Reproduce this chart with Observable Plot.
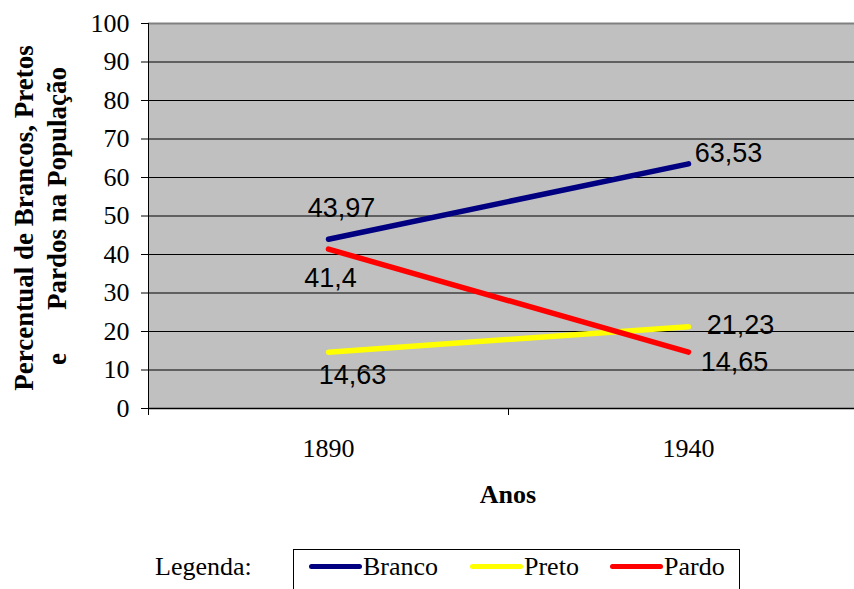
<!DOCTYPE html>
<html><head><meta charset="utf-8">
<script src="https://cdn.jsdelivr.net/npm/d3@7"></script>
<script src="https://cdn.jsdelivr.net/npm/@observablehq/plot@0.6"></script>
<style>
body{margin:0;background:#fff;overflow:hidden;}
#wrap{position:relative;width:854px;height:589px;font-family:"Liberation Serif",serif;}
#legend{position:absolute;left:0;top:540px;width:854px;height:49px;}
#legend .lab{position:absolute;left:155px;top:12px;font-size:26px;line-height:30px;color:#000;}
#legend .box{position:absolute;left:293px;top:9px;width:447px;height:60px;border:1px solid #000;box-sizing:border-box;}
#legend .sw{position:absolute;height:5px;border-radius:3px;top:24px;width:53px;}
#legend .nm{position:absolute;top:12px;font-size:26px;line-height:30px;color:#000;}
</style></head><body>
<div id="wrap"><div id="chart"></div><div id="legend"></div></div>
<script>
// ---- data ----
const years = [1890, 1940];
const branco = [43.97, 63.53];
const preto = [14.63, 21.23];
const pardo = [41.4, 14.65];
const seriesNames = ["Branco", "Preto", "Pardo"];
const seriesColors = ["#000080", "#FFFF00", "#FF0000"];
const yTicks = [0, 10, 20, 30, 40, 50, 60, 70, 80, 90, 100];
const xTickLabels = ["1890", "1940"];
const yTitle1 = "Percentual de Brancos, Pretos";
const yTitle2a = "e";
const yTitle2b = "Pardos na População";
const xTitle = "Anos";
const legendTitle = "Legenda:";

const seriesValues = [branco, preto, pardo];
const rows = [];
seriesNames.forEach((s, i) => years.forEach((yr, j) => rows.push({series: s, year: yr, value: seriesValues[i][j]})));

// label nudges (px) per series and year index
const nudges = {
  Branco: [[13, -31], [40, -11]],
  Preto: [[24, 23], [52, -1]],
  Pardo: [[2, 29], [46, 10]]
};
const fmt = v => String(v).replace(".", ",");

const H = 540, T = 23, B = 408;
const labelMarks = rows.map(r => {
  const j = years.indexOf(r.year);
  const [dx, dy] = nudges[r.series][j];
  return Plot.text([r], {x: "year", y: "value", text: d => fmt(d.value), dx, dy,
    fontFamily: "Liberation Sans", fontSize: 27, fill: "#000"});
});

const chart = Plot.plot({
  width: 854, height: H,
  marginLeft: 148, marginRight: 0, marginTop: T, marginBottom: H - B,
  style: {fontFamily: "Liberation Serif", fontSize: "26px", color: "#000", background: "#fff"},
  x: {type: "linear", domain: [1865, 1965], range: [148, 868], label: null},
  y: {domain: [0, 100], label: null},
  color: {domain: seriesNames, range: seriesColors},
  marks: [
    Plot.frame({fill: "#c0c0c0", stroke: "none"}),
    Plot.ruleY(yTicks.filter(v => v > 0 && v < 100), {stroke: "#000", strokeWidth: 1}),
    Plot.ruleY([100], {stroke: "#808080", strokeWidth: 2}),
    Plot.ruleY([0], {stroke: "#000", strokeWidth: 1.5}),
    Plot.ruleX([1865], {stroke: "#000", strokeWidth: 1}),
    Plot.axisY({ticks: yTicks, tickSize: 7, tickPadding: 12, tickFormat: d => String(d), fontSize: 26, stroke: "#000", label: null}),
    Plot.axisX({ticks: [1865, 1915], tickSize: 7, tickFormat: () => "", stroke: "#000", label: null}),
    Plot.axisX({ticks: years, tickSize: 0, tickPadding: 30, tickFormat: (d, i) => xTickLabels[i], fontSize: 26, label: null}),
    Plot.line(rows, {x: "year", y: "value", z: "series", stroke: "series", strokeWidth: 5.5, strokeLinecap: "round"}),
    ...labelMarks
  ]
});
document.getElementById("chart").appendChild(chart);

const svg = d3.select(chart);
svg.append("text").attr("transform", "translate(33,218) rotate(-90)")
  .attr("text-anchor", "middle").attr("font-weight", "bold").attr("font-size", 27)
  .attr("font-family", "Liberation Serif").text(yTitle1);
svg.append("text").attr("transform", "translate(66,359) rotate(-90)")
  .attr("text-anchor", "middle").attr("font-weight", "bold").attr("font-size", 27)
  .attr("font-family", "Liberation Serif").text(yTitle2a);
svg.append("text").attr("transform", "translate(66,67) rotate(-90)")
  .attr("text-anchor", "end").attr("font-weight", "bold").attr("font-size", 27)
  .attr("font-family", "Liberation Serif").text(yTitle2b);
svg.append("text").attr("x", 508).attr("y", 503)
  .attr("text-anchor", "middle").attr("font-weight", "bold").attr("font-size", 26)
  .attr("font-family", "Liberation Serif").text(xTitle);

// legend
const lg = d3.select("#legend");
lg.append("div").attr("class", "lab").text(legendTitle);
lg.append("div").attr("class", "box");
const swX = [309, 470, 610];
seriesNames.forEach((s, i) => {
  lg.append("div").attr("class", "sw").style("left", swX[i] + "px").style("background", seriesColors[i]);
  lg.append("div").attr("class", "nm").style("left", (swX[i] + 54) + "px").text(s);
});
</script>
</body></html>
